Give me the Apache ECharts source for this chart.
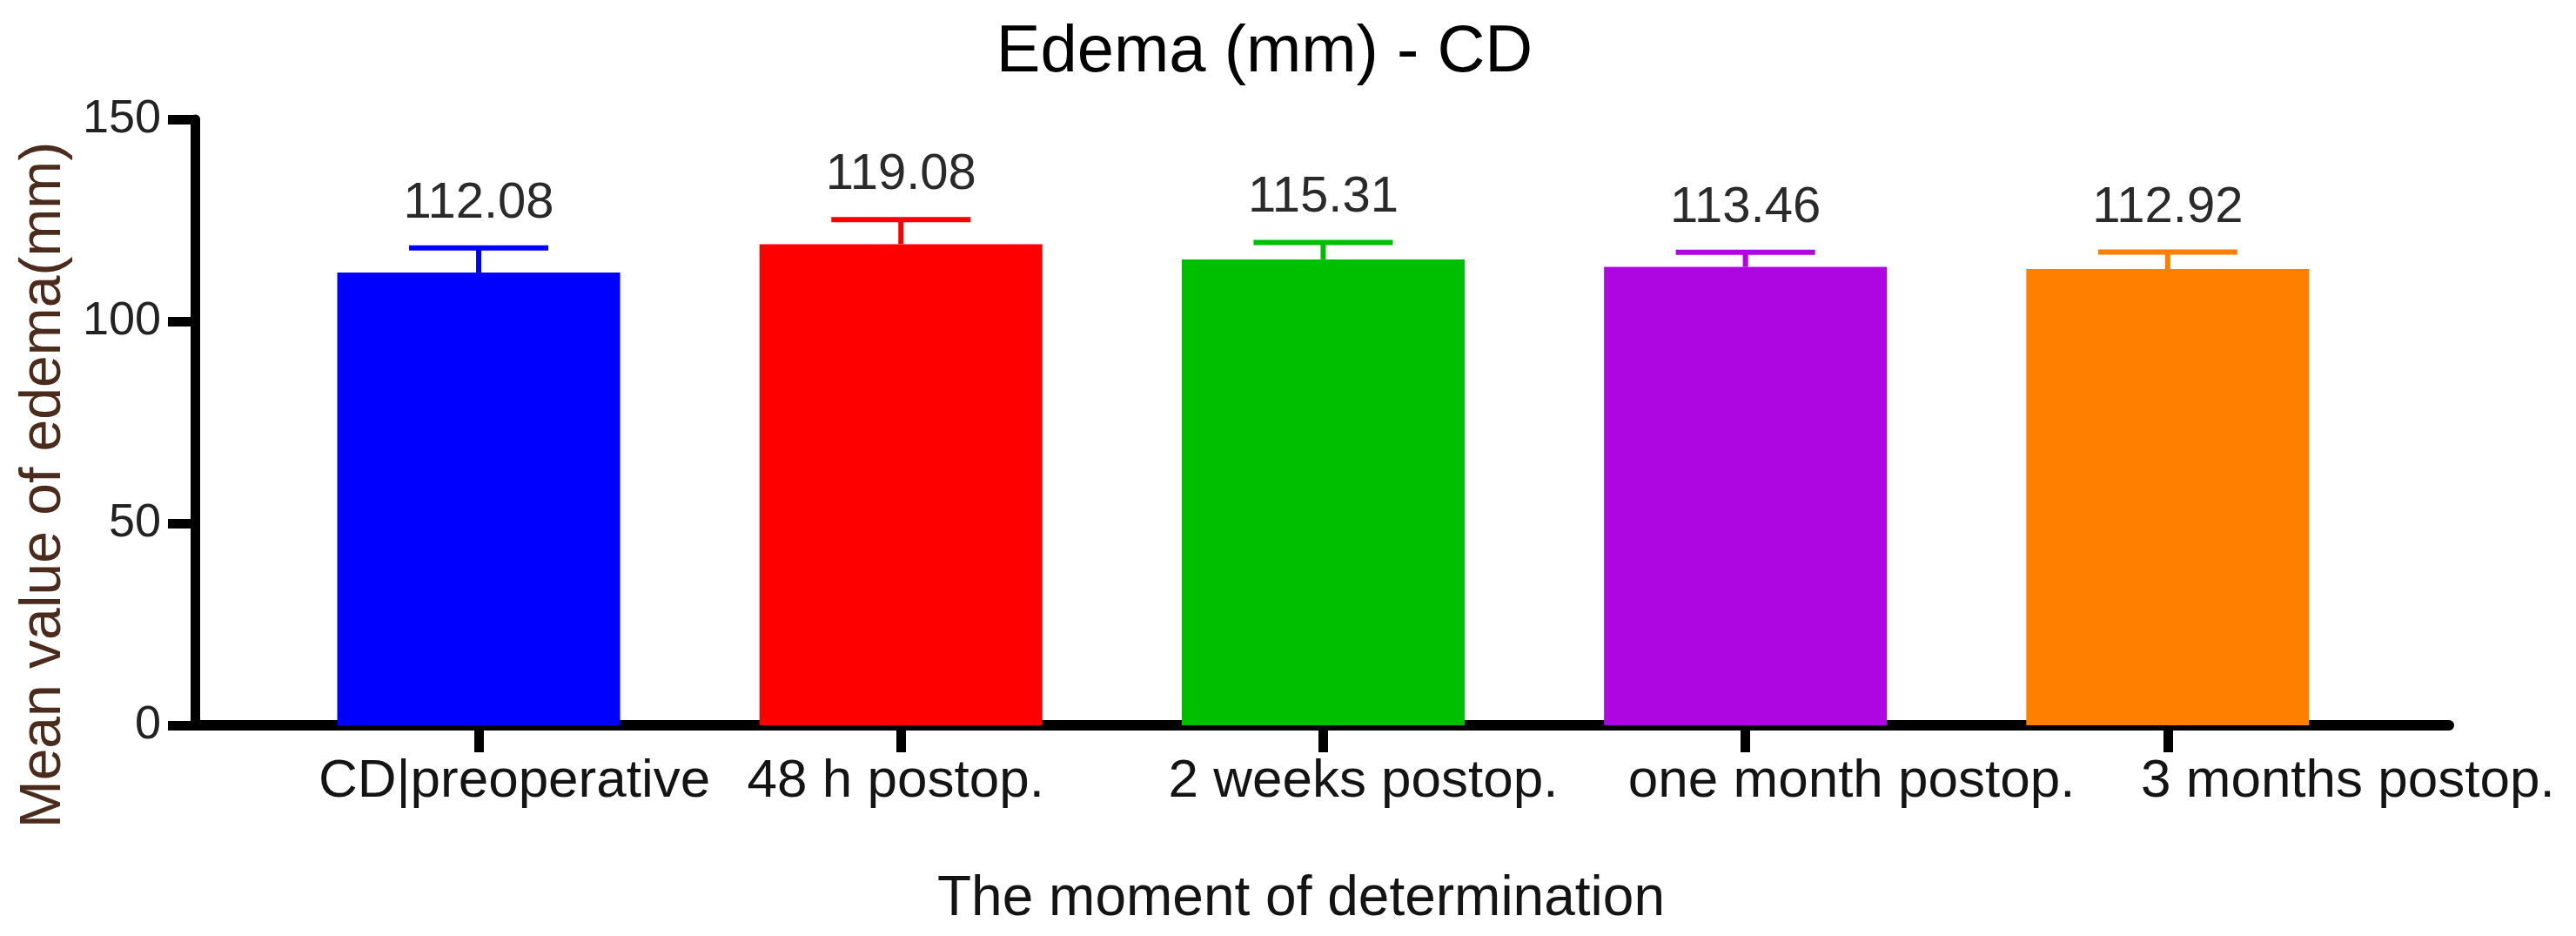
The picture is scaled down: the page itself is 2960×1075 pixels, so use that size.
<!DOCTYPE html>
<html>
<head>
<meta charset="utf-8">
<script src="https://cdn.jsdelivr.net/npm/echarts@6/dist/echarts.min.js"></script>
<style>
  html, body { margin: 0; padding: 0; background: #ffffff; }
  #mychart { width: 2960px; height: 1075px; }
</style>
</head>
<body>
<div id="mychart"></div>
<script>
// data
var categories = ['CD|preoperative', '48 h postop.', '2 weeks postop.', 'one month postop.', '3 months postop.'];
var meanValues = [112.08, 119.08, 115.31, 113.46, 112.92];
var errValues = [6.1, 6.1, 4.2, 3.6, 4.2];
var yTicks = [0, 50, 100, 150];

// look
var barColors = ['#0000ff', '#ff0000', '#00bf00', '#ae06e0', '#ff7f00'];
var labelShift = [41, -6, 46, 122, 207]; // x labels are not centred under ticks in the original
var font = 'Liberation Sans, Arial, sans-serif';

var positions = categories.map(function (c, i) { return i; });

var rich = {};
labelShift.forEach(function (d, i) {
  rich['s' + i] = {
    fontSize: 62, fontFamily: font, color: '#141414',
    padding: d >= 0 ? [0, 0, 0, 2 * d] : [0, -2 * d, 0, 0]
  };
});

var myChart = echarts.init(document.getElementById('mychart'));

var option = {
  backgroundColor: '#ffffff',
  animation: false,
  title: {
    text: 'Edema (mm) - CD',
    left: 1448,
    top: 18,
    textAlign: 'center',
    textStyle: { fontSize: 76, fontWeight: 'normal', color: '#000', fontFamily: font }
  },
  grid: { left: 224, right: 146, top: 137, bottom: 242 },
  xAxis: {
    type: 'value',
    min: -0.672,
    max: 4.666,
    splitLine: { show: false },
    axisLine: { show: true, onZero: false, lineStyle: { color: '#000', width: 12 } },
    axisTick: { show: true, customValues: positions, length: 31, lineStyle: { color: '#000', width: 11 } },
    axisLabel: {
      customValues: positions,
      margin: 34,
      formatter: function (v) {
        var i = Math.round(v);
        return '{s' + i + '|' + categories[i] + '}';
      },
      rich: rich
    },
    name: 'The moment of determination',
    nameLocation: 'middle',
    nameGap: 168,
    nameTextStyle: { fontSize: 64, color: '#141414', fontFamily: font, padding: [0, 48, 0, 0] }
  },
  yAxis: {
    type: 'value',
    min: 0,
    max: 150,
    interval: 50,
    splitLine: { show: false },
    axisLine: { show: true, onZero: false, lineStyle: { color: '#000', width: 11 } },
    axisTick: { show: true, length: 31, lineStyle: { color: '#000', width: 11 } },
    axisLabel: { fontSize: 54, margin: 39, color: '#222', fontFamily: font },
    name: 'Mean value of edema(mm)',
    nameLocation: 'middle',
    nameRotate: 90,
    nameGap: 140,
    nameTextStyle: { fontSize: 66, color: '#4a2b1c', fontFamily: font, padding: [0, 144, 0, 0] }
  },
  series: [
    {
      name: 'mean',
      type: 'bar',
      barWidth: 325,
      data: meanValues.map(function (v, i) {
        return { value: [positions[i], v], itemStyle: { color: barColors[i] } };
      })
    },
    {
      name: 'error',
      type: 'custom',
      z: 3,
      data: meanValues.map(function (v, i) { return [positions[i], v, errValues[i]]; }),
      renderItem: function (params, api) {
        var x = api.value(0), m = api.value(1), e = api.value(2);
        var base = api.coord([x, m]);
        var top = api.coord([x, m + e]);
        var col = barColors[params.dataIndex];
        var half = 80;
        return {
          type: 'group',
          children: [
            { type: 'line', shape: { x1: base[0], y1: base[1], x2: top[0], y2: top[1] }, style: { stroke: col, lineWidth: 6 } },
            { type: 'line', shape: { x1: top[0] - half, y1: top[1], x2: top[0] + half, y2: top[1] }, style: { stroke: col, lineWidth: 6 } },
            {
              type: 'text',
              style: {
                text: m.toFixed(2), x: top[0], y: top[1] - 22,
                align: 'center', verticalAlign: 'bottom',
                fontSize: 58, fontFamily: font, fill: '#2a2a2a'
              }
            }
          ]
        };
      }
    }
  ]
};

myChart.setOption(option);
</script>
</body>
</html>
